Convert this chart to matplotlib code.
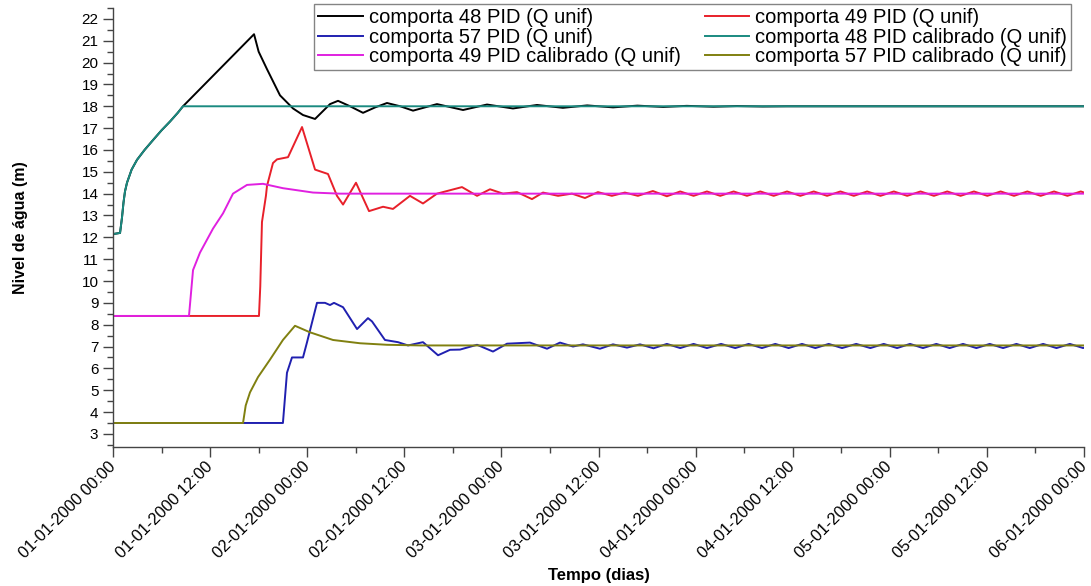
import matplotlib
matplotlib.use("Agg")
import matplotlib.pyplot as plt
from matplotlib.ticker import MultipleLocator

plt.rcParams['font.family'] = ['Liberation Sans', 'DejaVu Sans']

# tempo em horas desde 01-01-2000 00:00
t_48 = [0, 0.87, 1.11, 1.3, 1.48, 1.73, 2.3, 2.97, 3.9, 4.94, 6.0, 7.04, 8.0, 8.65,
        17.43, 18.0, 19.03, 20.64, 22.25, 23.48, 24.97, 26.82, 27.81, 29.3, 30.9, 32.4,
        33.86, 35.5, 37.08, 40.04, 43.26, 46.22, 49.43, 52.4, 55.6, 58.6, 61.8, 64.8,
        68.0, 70.9, 74.2, 77.1, 80.3, 83.3, 120]
v_48 = [12.15, 12.2, 12.9, 13.6, 14.1, 14.5, 15.1, 15.55, 16.0, 16.45, 16.9, 17.3, 17.7, 18.0,
        21.3, 20.5, 19.7, 18.5, 17.9, 17.6, 17.42, 18.1, 18.25, 18.0, 17.7, 17.95,
        18.15, 18.0, 17.8, 18.1, 17.83, 18.08, 17.9, 18.06, 17.93, 18.04, 17.95, 18.03,
        17.97, 18.02, 17.98, 18.01, 17.99, 18.0, 18.0]

t_48c = [0, 0.87, 1.11, 1.3, 1.48, 1.73, 2.3, 2.97, 3.9, 4.94, 6.0, 7.04, 8.0, 8.65, 120]
v_48c = [12.15, 12.2, 12.9, 13.6, 14.1, 14.5, 15.1, 15.55, 16.0, 16.45, 16.9, 17.3, 17.7, 18.0, 18.0]

t_49 = [0, 18.04, 18.2, 18.41, 18.9, 19.03, 19.77, 20.27, 21.63, 23.36, 24.97, 26.57, 27.68,
        28.43, 30.03, 31.64, 33.37, 34.6, 36.7, 38.31, 40.04, 43.13, 44.99, 46.59, 48.2,
        49.93, 51.78, 53.14, 55.0, 56.72, 58.33, 59.93, 61.65, 63.26, 64.87, 66.72, 68.45,
        70.1, 71.75, 73.4, 75.05, 76.7, 78.35, 80.0, 81.65, 83.3, 84.95, 86.6, 88.25,
        89.9, 91.55, 93.2, 94.85, 96.5, 98.15, 99.8, 101.45, 103.1, 104.75, 106.4, 108.05,
        109.7, 111.35, 113.0, 114.65, 116.3, 117.95, 119.6, 120]
v_49 = [8.4, 8.4, 9.75, 12.7, 13.9, 14.35, 15.4, 15.57, 15.67, 17.05, 15.1, 14.9, 13.9,
        13.5, 14.5, 13.2, 13.4, 13.3, 13.9, 13.55, 14.0, 14.3, 13.9, 14.2, 14.0,
        14.07, 13.75, 14.05, 13.9, 14.0, 13.8, 14.07, 13.9, 14.05, 13.9, 14.12, 13.88,
        14.1, 13.9, 14.1, 13.9, 14.1, 13.9, 14.1, 13.9, 14.1, 13.9, 14.1, 13.9,
        14.1, 13.9, 14.1, 13.9, 14.1, 13.9, 14.1, 13.9, 14.1, 13.9, 14.1, 13.9,
        14.1, 13.9, 14.1, 13.9, 14.1, 13.9, 14.1, 14.05]

t_49c = [0, 9.39, 9.89, 10.75, 12.36, 13.6, 14.83, 16.56, 18.54, 21.0, 24.72, 28.0, 120]
v_49c = [8.4, 8.4, 10.5, 11.3, 12.4, 13.1, 14.0, 14.4, 14.45, 14.25, 14.05, 14.0, 14.0]

t_57 = [0, 21.0, 21.5, 22.12, 23.48, 23.98, 25.21, 26.2, 26.82, 27.31, 28.43, 30.16, 31.51,
        32.01, 33.61, 35.22, 36.46, 38.31, 40.17, 41.65, 42.88, 44.99, 46.96, 48.69, 51.53,
        53.64, 55.24, 56.85, 58.08, 60.18, 61.79, 63.52, 65.13, 66.8, 68.45, 70.1, 71.75,
        73.4, 75.15, 76.9, 78.55, 80.2, 81.85, 83.5, 85.15, 86.8, 88.45, 90.1, 91.85,
        93.6, 95.25, 96.9, 98.5, 100.1, 101.75, 103.4, 105.05, 106.7, 108.35, 110.0, 111.65,
        113.3, 114.95, 116.6, 118.25, 119.9, 120]
v_57 = [3.5, 3.5, 5.8, 6.5, 6.5, 7.2, 9.0, 9.0, 8.9, 9.0, 8.8, 7.8, 8.3,
        8.15, 7.3, 7.2, 7.05, 7.2, 6.6, 6.85, 6.86, 7.08, 6.77, 7.13, 7.18,
        6.9, 7.18, 7.0, 7.1, 6.9, 7.1, 6.95, 7.1, 6.92, 7.12, 6.93, 7.12,
        6.93, 7.12, 6.93, 7.12, 6.93, 7.12, 6.93, 7.12, 6.93, 7.12, 6.93, 7.12,
        6.93, 7.12, 6.93, 7.12, 6.93, 7.12, 6.93, 7.12, 6.93, 7.12, 6.93, 7.12,
        6.93, 7.12, 6.93, 7.12, 6.93, 6.95]

t_57c = [0, 16.07, 16.4, 16.93, 17.92, 19.4, 21.0, 22.49, 24.35, 27.19, 30.53, 33.86, 38.0, 120]
v_57c = [3.5, 3.5, 4.3, 4.9, 5.6, 6.4, 7.3, 7.95, 7.65, 7.3, 7.15, 7.08, 7.05, 7.05]

tick_hours = [0, 12, 24, 36, 48, 60, 72, 84, 96, 108, 120]
tick_labels = ['01-01-2000 00:00', '01-01-2000 12:00', '02-01-2000 00:00', '02-01-2000 12:00',
               '03-01-2000 00:00', '03-01-2000 12:00', '04-01-2000 00:00', '04-01-2000 12:00',
               '05-01-2000 00:00', '05-01-2000 12:00', '06-01-2000 00:00']

W, H = 1091, 586
fig = plt.figure(figsize=(W / 100, H / 100), dpi=100)
ax = fig.add_axes([113 / W, 1 - 447 / H, 971 / W, 439 / H])

lw = 1.4
l1, = ax.plot(t_48, v_48, color='black', lw=lw, label='comporta 48 PID (Q unif)')
l2, = ax.plot(t_49, v_49, color='#e8202a', lw=lw, label='comporta 49 PID (Q unif)')
l3, = ax.plot(t_57, v_57, color='#2020b0', lw=lw, label='comporta 57 PID (Q unif)')
l4, = ax.plot(t_48c, v_48c, color='#1a8a80', lw=lw, label='comporta 48 PID calibrado (Q unif)')
l5, = ax.plot(t_49c, v_49c, color='#e020e0', lw=lw, label='comporta 49 PID calibrado (Q unif)')
l6, = ax.plot(t_57c, v_57c, color='#808010', lw=lw, label='comporta 57 PID calibrado (Q unif)')

ax.set_xlim(0, 120)
ax.set_ylim(2.4, 22.5)
ax.spines['top'].set_visible(False)
ax.spines['right'].set_visible(False)
for s in ('left', 'bottom'):
    ax.spines[s].set_color('#444444')
    ax.spines[s].set_linewidth(1.0)

ax.set_xticks(tick_hours)
ax.set_xticklabels(tick_labels, rotation=45, ha='right', va='center',
                   rotation_mode='anchor', fontsize=11.8)
ax.xaxis.set_minor_locator(MultipleLocator(6))
ax.set_yticks(range(3, 23))
ax.yaxis.set_minor_locator(MultipleLocator(0.5))
ax.tick_params(axis='both', which='major', length=7, width=1.0, color='#444444')
ax.tick_params(axis='both', which='minor', length=4, width=1.0, color='#444444')
ax.tick_params(axis='y', labelsize=11)
ax.tick_params(axis='x', pad=5.5)

ax.set_ylabel('Nivel de água (m)', fontsize=11.5, fontweight='bold')
ax.yaxis.set_label_coords(-(113 - 28) / 971, 0.5)
ax.set_xlabel('Tempo (dias)', fontsize=12, fontweight='bold')
ax.xaxis.set_label_coords(0.5, -(568 - 447) / 439)

leg = ax.legend(handles=[l1, l3, l5, l2, l4, l6], ncol=2, loc='upper right',
                bbox_to_anchor=(1071 / W, 1 - 4 / H), bbox_transform=fig.transFigure,
                fontsize=14.5, frameon=True, fancybox=False, borderaxespad=0,
                handlelength=2.2, handletextpad=0.3, labelspacing=0.03, columnspacing=1.2,
                borderpad=0.2)
leg.get_frame().set_edgecolor('#666666')
leg.get_frame().set_linewidth(1.0)

fig.savefig('out.png', dpi=100)
